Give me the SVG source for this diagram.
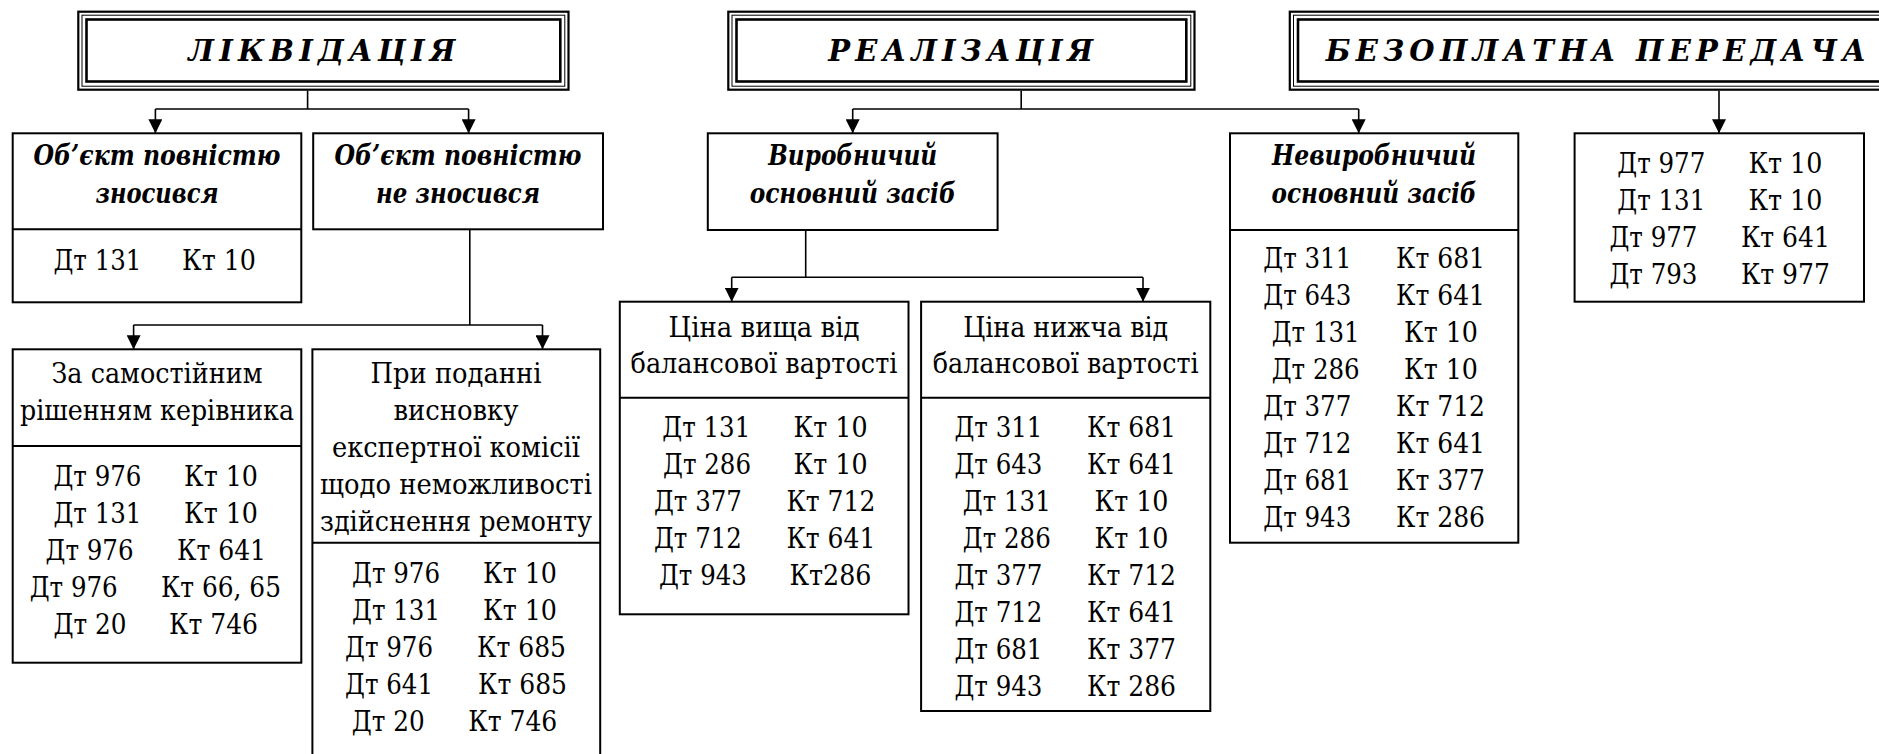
<svg xmlns="http://www.w3.org/2000/svg" width="1879" height="754" viewBox="0 0 1879 754" font-family="DejaVu Serif, Liberation Serif, Times New Roman, serif">
<style>
.bg{fill:#fff}
.box{fill:#fff;stroke:#000;stroke-width:2}
.div{stroke:#000;stroke-width:2}
.f1{fill:none;stroke:#000;stroke-width:2.2}
.f2{fill:none;stroke:#000;stroke-width:1}
.f3{fill:none;stroke:#000;stroke-width:2.6}
.ttl{font-weight:bold;font-style:italic;font-size:29px;fill:#000}
.hb{font-weight:bold;font-style:italic;font-size:28px;text-anchor:middle;fill:#000}
.hr{font-size:28px;text-anchor:middle;fill:#000}
.t{font-size:28px;fill:#000}
.c{fill:none;stroke:#000;stroke-width:1.6}
</style>
<defs>
<marker id="ah" markerUnits="userSpaceOnUse" markerWidth="14" markerHeight="14" refX="14" refY="7" orient="auto">
<path d="M0,0 L14,7 L0,14 z" fill="#000"/>
</marker>
</defs>
<rect class="bg" x="0" y="0" width="1879" height="754"/>

<g id="connectors">
<path class="c" d="M307.6,90.7 V109 M155.4,109 H468.6"/>
<path class="c" d="M155.4,109 V133.3" marker-end="url(#ah)"/>
<path class="c" d="M468.6,109 V133.3" marker-end="url(#ah)"/>
<path class="c" d="M469.8,229.3 V325 M133.6,325 H542.5"/>
<path class="c" d="M133.6,325 V349.3" marker-end="url(#ah)"/>
<path class="c" d="M542.5,325 V349.3" marker-end="url(#ah)"/>
<path class="c" d="M1021.2,90.7 V109 M852.7,109 H1358.7"/>
<path class="c" d="M852.7,109 V133.3" marker-end="url(#ah)"/>
<path class="c" d="M1358.7,109 V133.3" marker-end="url(#ah)"/>
<path class="c" d="M805.7,230 V277.3 M731.7,277.3 H1143"/>
<path class="c" d="M731.7,277.3 V301.7" marker-end="url(#ah)"/>
<path class="c" d="M1143,277.3 V301.7" marker-end="url(#ah)"/>
<path class="c" d="M1719,90.7 V133.3" marker-end="url(#ah)"/>
</g>

<g id="title-likvidatsiya">
<rect class="f1" x="78.3" y="11.7" width="490.2" height="78"/>
<rect class="f2" x="82" y="15.2" width="482.8" height="71"/>
<rect class="f3" x="86.5" y="19.5" width="473.8" height="62"/>
<text class="ttl" x="188.3" y="61" textLength="267" lengthAdjust="spacing">ЛІКВІДАЦІЯ</text>
</g>

<g id="title-realizatsiya">
<rect class="f1" x="728.3" y="11.7" width="466.2" height="78"/>
<rect class="f2" x="732" y="15.2" width="458.8" height="71"/>
<rect class="f3" x="736.5" y="19.5" width="449.8" height="62"/>
<text class="ttl" x="828.2" y="61" textLength="265" lengthAdjust="spacing">РЕАЛІЗАЦІЯ</text>
</g>

<g id="title-bezoplatna">
<rect class="f1" x="1289.8" y="11.7" width="620" height="78"/>
<rect class="f2" x="1293.5" y="15.2" width="620" height="71"/>
<rect class="f3" x="1298" y="19.5" width="620" height="62"/>
<text class="ttl" x="1325.8" y="61" textLength="540" lengthAdjust="spacing">БЕЗОПЛАТНА ПЕРЕДАЧА</text>
</g>

<g id="n-full">
<rect class="box" x="12.7" y="133.3" width="288.6" height="169"/>
<line class="div" x1="12.7" y1="229.3" x2="301.3" y2="229.3"/>
<text class="hb" x="157" y="165" textLength="247" lengthAdjust="spacingAndGlyphs">Об’єкт повністю</text>
<text class="hb" x="157" y="203" textLength="123" lengthAdjust="spacingAndGlyphs">зносився</text>
<text class="t" x="53.4" y="270" textLength="88" lengthAdjust="spacingAndGlyphs">Дт 131</text><text class="t" x="182" y="270" textLength="74" lengthAdjust="spacingAndGlyphs">Кт 10</text>
</g>

<g id="n-notfull">
<rect class="box" x="313.2" y="133.3" width="289.8" height="96"/>
<text class="hb" x="458" y="165" textLength="247" lengthAdjust="spacingAndGlyphs">Об’єкт повністю</text>
<text class="hb" x="458" y="203" textLength="164" lengthAdjust="spacingAndGlyphs">не зносився</text>
</g>

<g id="n-manager">
<rect class="box" x="12.7" y="349.3" width="288.6" height="313.4"/>
<line class="div" x1="12.7" y1="446" x2="301.3" y2="446"/>
<text class="hr" x="157" y="383" textLength="211" lengthAdjust="spacingAndGlyphs">За самостійним</text>
<text class="hr" x="157" y="420" textLength="274" lengthAdjust="spacingAndGlyphs">рішенням керівника</text>
<text class="t" x="53.4" y="486" textLength="88" lengthAdjust="spacingAndGlyphs">Дт 976</text><text class="t" x="184" y="486" textLength="74" lengthAdjust="spacingAndGlyphs">Кт 10</text>
<text class="t" x="53.4" y="523" textLength="88" lengthAdjust="spacingAndGlyphs">Дт 131</text><text class="t" x="184" y="523" textLength="74" lengthAdjust="spacingAndGlyphs">Кт 10</text>
<text class="t" x="45.5" y="560" textLength="88" lengthAdjust="spacingAndGlyphs">Дт 976</text><text class="t" x="177" y="560" textLength="89" lengthAdjust="spacingAndGlyphs">Кт 641</text>
<text class="t" x="29.7" y="597" textLength="88" lengthAdjust="spacingAndGlyphs">Дт 976</text><text class="t" x="161" y="597" textLength="120" lengthAdjust="spacingAndGlyphs">Кт 66, 65</text>
<text class="t" x="53.4" y="634" textLength="73" lengthAdjust="spacingAndGlyphs">Дт 20</text><text class="t" x="169" y="634" textLength="89" lengthAdjust="spacingAndGlyphs">Кт 746</text>
</g>

<g id="n-commission">
<rect class="box" x="312.4" y="349.3" width="287.8" height="420"/>
<line class="div" x1="312.4" y1="542.7" x2="600.2" y2="542.7"/>
<text class="hr" x="456" y="383" textLength="171" lengthAdjust="spacingAndGlyphs">При поданні</text>
<text class="hr" x="456" y="420" textLength="125" lengthAdjust="spacingAndGlyphs">висновку</text>
<text class="hr" x="456" y="457" textLength="248" lengthAdjust="spacingAndGlyphs">експертної комісії</text>
<text class="hr" x="456" y="494" textLength="272" lengthAdjust="spacingAndGlyphs">щодо неможливості</text>
<text class="hr" x="456" y="531" textLength="272" lengthAdjust="spacingAndGlyphs">здійснення ремонту</text>
<text class="t" x="352" y="583" textLength="88" lengthAdjust="spacingAndGlyphs">Дт 976</text><text class="t" x="483" y="583" textLength="74" lengthAdjust="spacingAndGlyphs">Кт 10</text>
<text class="t" x="352" y="620" textLength="88" lengthAdjust="spacingAndGlyphs">Дт 131</text><text class="t" x="483" y="620" textLength="74" lengthAdjust="spacingAndGlyphs">Кт 10</text>
<text class="t" x="345" y="657" textLength="88" lengthAdjust="spacingAndGlyphs">Дт 976</text><text class="t" x="477" y="657" textLength="89" lengthAdjust="spacingAndGlyphs">Кт 685</text>
<text class="t" x="345" y="694" textLength="88" lengthAdjust="spacingAndGlyphs">Дт 641</text><text class="t" x="478" y="694" textLength="89" lengthAdjust="spacingAndGlyphs">Кт 685</text>
<text class="t" x="351.7" y="731" textLength="73" lengthAdjust="spacingAndGlyphs">Дт 20</text><text class="t" x="468.3" y="731" textLength="89" lengthAdjust="spacingAndGlyphs">Кт 746</text>
</g>

<g id="n-production">
<rect class="box" x="707.8" y="133.3" width="289.8" height="96.7"/>
<text class="hb" x="852.7" y="165" textLength="169" lengthAdjust="spacingAndGlyphs">Виробничий</text>
<text class="hb" x="852.7" y="203" textLength="206" lengthAdjust="spacingAndGlyphs">основний засіб</text>
</g>

<g id="n-higher">
<rect class="box" x="619.8" y="301.7" width="288.7" height="312.6"/>
<line class="div" x1="619.8" y1="397.7" x2="908.5" y2="397.7"/>
<text class="hr" x="764" y="337" textLength="191" lengthAdjust="spacingAndGlyphs">Ціна вища від</text>
<text class="hr" x="764" y="373" textLength="267" lengthAdjust="spacingAndGlyphs">балансової вартості</text>
<text class="t" x="662.3" y="437" textLength="88" lengthAdjust="spacingAndGlyphs">Дт 131</text><text class="t" x="793.6" y="437" textLength="74" lengthAdjust="spacingAndGlyphs">Кт 10</text>
<text class="t" x="663" y="474" textLength="88" lengthAdjust="spacingAndGlyphs">Дт 286</text><text class="t" x="793.6" y="474" textLength="74" lengthAdjust="spacingAndGlyphs">Кт 10</text>
<text class="t" x="653.9" y="511" textLength="88" lengthAdjust="spacingAndGlyphs">Дт 377</text><text class="t" x="786.4" y="511" textLength="89" lengthAdjust="spacingAndGlyphs">Кт 712</text>
<text class="t" x="653.9" y="548" textLength="88" lengthAdjust="spacingAndGlyphs">Дт 712</text><text class="t" x="786.4" y="548" textLength="89" lengthAdjust="spacingAndGlyphs">Кт 641</text>
<text class="t" x="658.9" y="585" textLength="88" lengthAdjust="spacingAndGlyphs">Дт 943</text><text class="t" x="789.4" y="585" textLength="82" lengthAdjust="spacingAndGlyphs">Кт286</text>
</g>

<g id="n-lower">
<rect class="box" x="921.1" y="301.7" width="289.2" height="409.3"/>
<line class="div" x1="921.1" y1="397.7" x2="1210.3" y2="397.7"/>
<text class="hr" x="1065.7" y="337" textLength="205" lengthAdjust="spacingAndGlyphs">Ціна нижча від</text>
<text class="hr" x="1065.7" y="373" textLength="266" lengthAdjust="spacingAndGlyphs">балансової вартості</text>
<text class="t" x="954.4" y="437" textLength="88" lengthAdjust="spacingAndGlyphs">Дт 311</text><text class="t" x="1087" y="437" textLength="89" lengthAdjust="spacingAndGlyphs">Кт 681</text>
<text class="t" x="954.4" y="474" textLength="88" lengthAdjust="spacingAndGlyphs">Дт 643</text><text class="t" x="1087" y="474" textLength="89" lengthAdjust="spacingAndGlyphs">Кт 641</text>
<text class="t" x="962.8" y="511" textLength="88" lengthAdjust="spacingAndGlyphs">Дт 131</text><text class="t" x="1094.5" y="511" textLength="74" lengthAdjust="spacingAndGlyphs">Кт 10</text>
<text class="t" x="962.8" y="548" textLength="88" lengthAdjust="spacingAndGlyphs">Дт 286</text><text class="t" x="1094.5" y="548" textLength="74" lengthAdjust="spacingAndGlyphs">Кт 10</text>
<text class="t" x="954.4" y="585" textLength="88" lengthAdjust="spacingAndGlyphs">Дт 377</text><text class="t" x="1087" y="585" textLength="89" lengthAdjust="spacingAndGlyphs">Кт 712</text>
<text class="t" x="954.4" y="622" textLength="88" lengthAdjust="spacingAndGlyphs">Дт 712</text><text class="t" x="1087" y="622" textLength="89" lengthAdjust="spacingAndGlyphs">Кт 641</text>
<text class="t" x="954.4" y="659" textLength="88" lengthAdjust="spacingAndGlyphs">Дт 681</text><text class="t" x="1087" y="659" textLength="89" lengthAdjust="spacingAndGlyphs">Кт 377</text>
<text class="t" x="954.4" y="696" textLength="88" lengthAdjust="spacingAndGlyphs">Дт 943</text><text class="t" x="1087" y="696" textLength="89" lengthAdjust="spacingAndGlyphs">Кт 286</text>
</g>

<g id="n-nonproduction">
<rect class="box" x="1230" y="133.3" width="288.3" height="409.4"/>
<line class="div" x1="1230" y1="230" x2="1518.3" y2="230"/>
<text class="hb" x="1374" y="165" textLength="204" lengthAdjust="spacingAndGlyphs">Невиробничий</text>
<text class="hb" x="1374" y="203" textLength="205" lengthAdjust="spacingAndGlyphs">основний засіб</text>
<text class="t" x="1263.3" y="268" textLength="88" lengthAdjust="spacingAndGlyphs">Дт 311</text><text class="t" x="1396" y="268" textLength="89" lengthAdjust="spacingAndGlyphs">Кт 681</text>
<text class="t" x="1263.3" y="305" textLength="88" lengthAdjust="spacingAndGlyphs">Дт 643</text><text class="t" x="1396" y="305" textLength="89" lengthAdjust="spacingAndGlyphs">Кт 641</text>
<text class="t" x="1271.7" y="342" textLength="88" lengthAdjust="spacingAndGlyphs">Дт 131</text><text class="t" x="1404" y="342" textLength="74" lengthAdjust="spacingAndGlyphs">Кт 10</text>
<text class="t" x="1271.7" y="379" textLength="88" lengthAdjust="spacingAndGlyphs">Дт 286</text><text class="t" x="1404" y="379" textLength="74" lengthAdjust="spacingAndGlyphs">Кт 10</text>
<text class="t" x="1263.3" y="416" textLength="88" lengthAdjust="spacingAndGlyphs">Дт 377</text><text class="t" x="1396" y="416" textLength="89" lengthAdjust="spacingAndGlyphs">Кт 712</text>
<text class="t" x="1263.3" y="453" textLength="88" lengthAdjust="spacingAndGlyphs">Дт 712</text><text class="t" x="1396" y="453" textLength="89" lengthAdjust="spacingAndGlyphs">Кт 641</text>
<text class="t" x="1263.3" y="490" textLength="88" lengthAdjust="spacingAndGlyphs">Дт 681</text><text class="t" x="1396" y="490" textLength="89" lengthAdjust="spacingAndGlyphs">Кт 377</text>
<text class="t" x="1263.3" y="527" textLength="88" lengthAdjust="spacingAndGlyphs">Дт 943</text><text class="t" x="1396" y="527" textLength="89" lengthAdjust="spacingAndGlyphs">Кт 286</text>
</g>

<g id="n-free">
<rect class="box" x="1574.6" y="133.3" width="289.4" height="168.4"/>
<text class="t" x="1617.3" y="173" textLength="88" lengthAdjust="spacingAndGlyphs">Дт 977</text><text class="t" x="1748.4" y="173" textLength="74" lengthAdjust="spacingAndGlyphs">Кт 10</text>
<text class="t" x="1617.3" y="210" textLength="88" lengthAdjust="spacingAndGlyphs">Дт 131</text><text class="t" x="1748.4" y="210" textLength="74" lengthAdjust="spacingAndGlyphs">Кт 10</text>
<text class="t" x="1609.4" y="247" textLength="88" lengthAdjust="spacingAndGlyphs">Дт 977</text><text class="t" x="1740.9" y="247" textLength="89" lengthAdjust="spacingAndGlyphs">Кт 641</text>
<text class="t" x="1609.4" y="284" textLength="88" lengthAdjust="spacingAndGlyphs">Дт 793</text><text class="t" x="1740.9" y="284" textLength="89" lengthAdjust="spacingAndGlyphs">Кт 977</text>
</g>
</svg>
